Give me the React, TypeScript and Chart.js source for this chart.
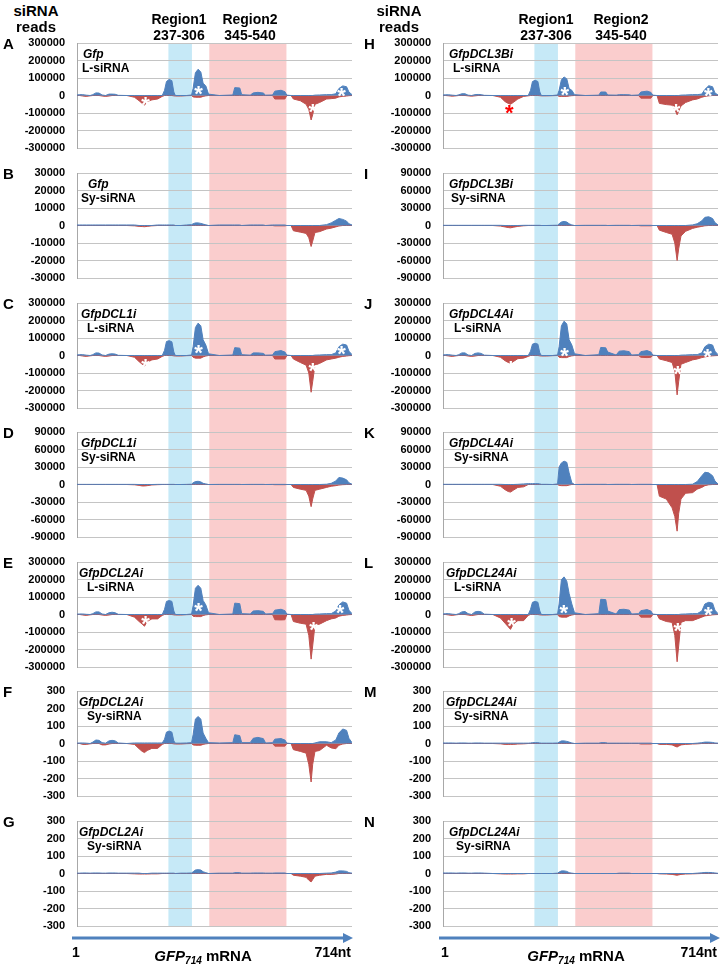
import React, { useEffect, useRef } from 'react';
import { Chart, registerables } from 'chart.js';

Chart.register(...registerables);

// ---------- data ----------
// positions along GFP714 mRNA (nt) at which read counts are sampled
const NT = [1, 8, 16, 25, 35, 42, 50, 58, 66, 75, 84, 92, 100, 108, 130,
  150, 162, 170, 176, 183, 195, 210, 222,
  228, 233, 240, 247, 252, 256,
  270, 285, 298,
  302, 308, 315, 322, 328, 335, 342,
  370, 405, 410, 423, 428, 450, 458, 470, 484, 490, 508, 514, 530, 540, 545, 556,
  562, 580, 595, 602, 608, 612, 618, 630, 648, 660, 672, 680, 690, 700, 706, 714];

const REGION1 = [238, 299];
const REGION2 = [344, 544];
const REGION1_LABEL = ['Region1', '237-306'];
const REGION2_LABEL = ['Region2', '345-540'];

const A_POS = [3000, 5000, 5000, 2000, 0, 5000, 15000, 14000, 3000, 0, 8000, 8000, 7000, 1000, 0,
  0, 0, 0, 0, 0, 0, 0, 0,
  30000, 80000, 92000, 85000, 20000, 0,
  0, 0, 3000,
  40000, 130000, 150000, 135000, 70000, 55000, 8000,
  0, 3000, 45000, 43000, 5000, 2000, 15000, 18000, 14000, 2000, 3000, 25000, 30000, 22000, 2000, 0,
  0, 0, 0, 0, 0, 0, 2000, 3000, 5000, 5000, 10000, 40000, 55000, 50000, 20000, 5000];
const A_NEG = [0, 0, -3000, -5000, -2000, 0, 0, 0, -3000, -5000, -3000, 0, 0, 0, 0,
  -10000, -30000, -45000, -55000, -35000, -25000, -20000, -5000,
  0, 0, 0, 0, -2000, -3000,
  -3000, -1000, 0,
  -8000, -10000, -10000, -10000, -5000, -2000, 0,
  0, 0, 0, 0, 0, 0, 0, 0, 0, 0, 0, -20000, -20000, -20000, 0, 0,
  -20000, -30000, -50000, -80000, -140000, -110000, -50000, -40000, -20000, -18000, -15000, -8000, -5000, -3000, -1000, 0];

const B_POS = [300, 300, 300, 300, 300, 300, 300, 300, 300, 300, 300, 300, 300, 300, 300,
  300, 0, 0, 0, 0, 0, 300, 300,
  300, 300, 300, 300, 300, 0,
  0, 300, 500,
  1000, 1500, 1500, 1200, 800, 400, 0,
  300, 300, 300, 300, 0, 300, 300, 300, 300, 0, 300, 300, 300, 300, 0, 0,
  0, 0, 0, 0, 0, 0, 0, 0, 500, 1500, 3000, 4000, 3500, 2500, 1000, 300];
const B_NEG = [0, 0, 0, 0, 0, 0, 0, 0, 0, 0, 0, 0, 0, 0, 0,
  -200, -500, -600, -700, -500, -200, 0, 0,
  0, 0, 0, 0, 0, 0,
  0, 0, 0,
  0, 0, 0, 0, 0, 0, 0,
  0, 0, 0, 0, 0, 0, 0, 0, 0, 0, 0, -200, -200, -200, 0, 0,
  -3000, -3800, -4500, -7000, -12000, -9000, -4000, -3500, -2000, -1500, -800, -300, 0, 0, 0, 0];

const C_POS = [3000, 5000, 5000, 2000, 0, 5000, 15000, 14000, 3000, 0, 8000, 10000, 8000, 1000, 0,
  0, 0, 0, 0, 0, 0, 0, 0,
  30000, 80000, 85000, 78000, 20000, 0,
  0, 0, 3000,
  50000, 160000, 185000, 170000, 90000, 60000, 10000,
  0, 3000, 45000, 42000, 5000, 2000, 15000, 15000, 12000, 2000, 3000, 22000, 28000, 20000, 2000, 0,
  0, 0, 0, 0, 0, 0, 2000, 3000, 5000, 5000, 15000, 50000, 65000, 60000, 25000, 5000];
const C_NEG = [0, 0, -3000, -5000, -2000, 0, 0, 0, -3000, -5000, -3000, 0, 0, 0, 0,
  -10000, -35000, -50000, -60000, -40000, -25000, -20000, -5000,
  0, 0, 0, 0, -2000, -3000,
  -3000, -1000, 0,
  -10000, -15000, -15000, -15000, -8000, -3000, 0,
  0, 0, 0, 0, 0, 0, 0, 0, 0, 0, 0, -20000, -20000, -20000, 0, 0,
  -20000, -40000, -55000, -100000, -210000, -150000, -55000, -45000, -25000, -20000, -15000, -10000, -5000, -3000, -1000, 0];

const D_POS = [200, 200, 200, 200, 200, 200, 200, 200, 200, 200, 200, 200, 200, 200, 200,
  200, 0, 0, 0, 0, 0, 200, 200,
  200, 200, 200, 200, 200, 0,
  0, 200, 500,
  3000, 5000, 5500, 4500, 2000, 1000, 0,
  200, 200, 200, 200, 0, 200, 200, 200, 200, 0, 200, 200, 200, 200, 0, 0,
  0, 0, 0, 0, 0, 0, 0, 0, 500, 2000, 6000, 12000, 11000, 8000, 3000, 500];
const D_NEG = [0, 0, 0, 0, 0, 0, 0, 0, 0, 0, 0, 0, 0, 0, 0,
  -500, -1500, -2500, -2500, -2000, -800, -300, 0,
  0, 0, 0, 0, 0, 0,
  0, 0, 0,
  0, 0, 0, 0, 0, 0, 0,
  0, 0, 0, 0, 0, 0, 0, 0, 0, 0, 0, -300, -300, -300, 0, 0,
  -5000, -8000, -10000, -20000, -38000, -25000, -10000, -8000, -5000, -3000, -2000, -1000, -300, 0, 0, 0];

const E_POS = [2000, 3000, 3000, 1000, 0, 5000, 15000, 15000, 3000, 0, 10000, 13000, 10000, 1000, 0,
  0, 0, 0, 0, 0, 0, 0, 0,
  30000, 75000, 80000, 75000, 20000, 0,
  0, 0, 3000,
  50000, 150000, 167000, 150000, 80000, 55000, 10000,
  0, 3000, 65000, 62000, 5000, 3000, 20000, 22000, 18000, 3000, 5000, 25000, 30000, 22000, 2000, 0,
  0, 0, 0, 0, 0, 0, 2000, 3000, 5000, 5000, 20000, 55000, 72000, 65000, 25000, 5000];
const E_NEG = [0, 0, -3000, -5000, -2000, 0, 0, 0, -3000, -5000, -3000, 0, 0, 0, 0,
  -15000, -40000, -55000, -67000, -40000, -25000, -25000, -5000,
  0, 0, 0, 0, -2000, -3000,
  -3000, -1000, 0,
  -10000, -12000, -12000, -12000, -6000, -2000, 0,
  0, 0, 0, 0, 0, 0, 0, 0, 0, 0, 0, -30000, -31000, -30000, 0, 0,
  -40000, -50000, -55000, -120000, -255000, -180000, -60000, -55000, -35000, -25000, -20000, -10000, -5000, -3000, -1000, 0];

const F_POS = [2, 3, 3, 2, 0, 8, 20, 18, 5, 2, 15, 18, 15, 3, 0,
  3, 3, 3, 3, 3, 3, 3, 3,
  25, 65, 71, 65, 15, 2,
  2, 3, 5,
  50, 140, 154, 140, 60, 30, 5,
  3, 5, 50, 45, 5, 5, 30, 35, 28, 3, 5, 25, 28, 20, 2, 0,
  0, 0, 0, 0, 0, 0, 3, 10, 10, 5, 20, 60, 83, 75, 30, 5];
const F_NEG = [0, 0, -5, -5, -2, 0, 0, 0, -8, -8, -3, 0, 0, 0, 0,
  -5, -30, -45, -52, -40, -28, -28, -5,
  0, 0, 0, 0, -2, -3,
  -3, -1, 0,
  -8, -10, -10, -10, -5, -2, 0,
  0, 0, 0, 0, 0, 0, 0, 0, 0, 0, 0, -15, -15, -15, 0, 0,
  -35, -45, -55, -120, -220, -120, -45, -40, -10, -25, -30, -10, -3, 0, 0, 0];

const G_POS = [2, 2, 3, 3, 2, 3, 3, 3, 2, 2, 3, 3, 3, 2, 2,
  2, 2, 0, 0, 0, 2, 2, 2,
  2, 2, 2, 2, 2, 0,
  2, 2, 3,
  10, 20, 22, 20, 10, 5, 0,
  2, 2, 5, 5, 2, 2, 3, 3, 3, 2, 2, 3, 3, 3, 0, 0,
  0, 0, 0, 0, 0, 0, 0, 0, 2, 3, 8, 15, 15, 12, 5, 2];
const G_NEG = [0, 0, 0, 0, 0, 0, 0, 0, 0, 0, 0, 0, 0, 0, 0,
  -2, -3, -3, -3, -3, -2, -2, 0,
  0, 0, 0, 0, 0, 0,
  0, 0, 0,
  0, 0, 0, 0, 0, 0, 0,
  0, 0, 0, 0, 0, 0, 0, 0, 0, 0, 0, 0, 0, 0, 0, 0,
  -10, -15, -22, -38, -48, -35, -15, -10, -5, -5, -3, 0, 0, 0, 0, 0];

const H_POS = [3000, 4000, 4000, 2000, 0, 4000, 10000, 10000, 2000, 0, 5000, 6000, 5000, 1000, 0,
  0, 0, 0, 0, 0, 0, 0, 0,
  30000, 80000, 87000, 80000, 20000, 0,
  0, 0, 3000,
  30000, 90000, 106000, 95000, 40000, 30000, 5000,
  0, 2000, 20000, 20000, 3000, 2000, 5000, 5000, 4000, 1000, 3000, 20000, 25000, 18000, 2000, 0,
  0, 0, 0, 0, 0, 0, 2000, 3000, 5000, 5000, 8000, 35000, 56000, 50000, 15000, 3000];
const H_NEG = [0, 0, -2000, -4000, -2000, 0, 0, 0, -2000, -4000, -2000, 0, 0, 0, 0,
  -10000, -35000, -45000, -50000, -40000, -20000, -5000, -2000,
  0, 0, 0, 0, -1000, -2000,
  -2000, -1000, 0,
  -5000, -5000, -5000, -5000, -3000, -1000, 0,
  0, 0, 0, 0, 0, 0, 0, 0, 0, 0, 0, -15000, -15000, -15000, 0, 0,
  -45000, -52000, -55000, -80000, -110000, -90000, -60000, -40000, -25000, -20000, -10000, -5000, -2000, 0, 0, 0];

const I_POS = [300, 300, 300, 300, 300, 300, 300, 300, 300, 300, 300, 300, 300, 300, 300,
  300, 0, 0, 0, 0, 0, 300, 300,
  300, 300, 300, 300, 300, 0,
  0, 300, 500,
  3000, 6000, 7000, 6000, 3000, 1000, 0,
  300, 300, 300, 300, 0, 300, 300, 300, 300, 0, 300, 300, 300, 300, 0, 0,
  0, 0, 0, 0, 0, 0, 0, 0, 1000, 3000, 8000, 14000, 15000, 12000, 5000, 1000];
const I_NEG = [0, 0, 0, 0, 0, 0, 0, 0, 0, 0, 0, 0, 0, 0, 0,
  -1000, -2500, -3500, -4000, -3000, -1500, -500, 0,
  0, 0, 0, 0, 0, 0,
  0, 0, 0,
  0, 0, 0, 0, 0, 0, 0,
  0, 0, 0, 0, 0, 0, 0, 0, 0, 0, 0, -500, -500, -500, 0, 0,
  -8000, -12000, -15000, -30000, -60000, -40000, -18000, -10000, -5000, -3000, -1500, -500, 0, 0, 0, 0];

const J_POS = [3000, 5000, 5000, 2000, 0, 5000, 15000, 15000, 3000, 0, 12000, 15000, 12000, 2000, 0,
  0, 0, 0, 0, 0, 0, 0, 0,
  25000, 65000, 70000, 65000, 15000, 0,
  0, 0, 3000,
  50000, 170000, 196000, 180000, 90000, 60000, 10000,
  0, 5000, 46000, 44000, 20000, 3000, 25000, 27000, 22000, 3000, 5000, 22000, 28000, 20000, 2000, 0,
  0, 0, 0, 0, 0, 0, 2000, 3000, 5000, 5000, 15000, 50000, 65000, 60000, 25000, 5000];
const J_NEG = [0, 0, -3000, -5000, -2000, 0, 0, 0, -3000, -5000, -3000, 0, 0, 0, 0,
  -10000, -30000, -40000, -45000, -35000, -18000, -15000, -5000,
  0, 0, 0, 0, -2000, -3000,
  -3000, -1000, 0,
  -10000, -12000, -12000, -12000, -6000, -2000, 0,
  0, 0, 0, 0, 0, 0, 0, 0, 0, 0, 0, -10000, -12000, -10000, 0, 0,
  -20000, -30000, -40000, -90000, -225000, -150000, -50000, -40000, -25000, -20000, -12000, -8000, -4000, -2000, -1000, 0];

const K_POS = [300, 300, 300, 300, 300, 300, 300, 300, 300, 300, 300, 300, 300, 300, 300,
  300, 0, 0, 0, 0, 300, 1000, 1500,
  1500, 1500, 1500, 1500, 1000, 300,
  300, 0, 1000,
  30000, 37000, 40000, 38000, 20000, 3000, 0,
  300, 300, 300, 300, 0, 300, 300, 300, 300, 0, 300, 300, 300, 300, 0, 0,
  0, 0, 0, 0, 0, 0, 0, 0, 500, 5000, 15000, 21000, 20000, 15000, 6000, 1000];
const K_NEG = [0, 0, 0, 0, 0, 0, 0, 0, 0, 0, 0, 0, 0, 0, 0,
  -3000, -9000, -12000, -13000, -10000, -5000, -4000, 0,
  0, 0, 0, 0, 0, 0,
  0, 0, 0,
  -1500, -2000, -2000, -2000, -1000, 0, 0,
  0, 0, 0, 0, 0, 0, 0, 0, 0, 0, 0, 0, 0, 0, 0, 0,
  -20000, -25000, -40000, -55000, -80000, -50000, -25000, -15000, -14000, -8000, -5000, -2000, -500, 0, 0, 0];

const L_POS = [3000, 5000, 5000, 2000, 0, 5000, 15000, 17000, 5000, 0, 15000, 18000, 15000, 2000, 0,
  0, 0, 0, 0, 0, 0, 0, 0,
  30000, 70000, 75000, 70000, 20000, 0,
  0, 0, 3000,
  60000, 200000, 215000, 190000, 120000, 60000, 10000,
  0, 5000, 87000, 85000, 20000, 3000, 28000, 30000, 25000, 3000, 5000, 22000, 28000, 20000, 2000, 0,
  0, 0, 0, 0, 0, 0, 2000, 3000, 5000, 5000, 20000, 60000, 70000, 65000, 25000, 5000];
const L_NEG = [0, 0, -3000, -5000, -2000, 0, 0, 0, -3000, -6000, -3000, 0, 0, 0, 0,
  -20000, -50000, -70000, -85000, -55000, -35000, -35000, -5000,
  0, 0, 0, 0, -2000, -3000,
  -3000, -1000, 0,
  -12000, -15000, -15000, -15000, -8000, -3000, 0,
  0, 0, 0, 0, 0, 0, 0, 0, 0, 0, 0, -15000, -15000, -15000, 0, 0,
  -25000, -40000, -45000, -120000, -270000, -180000, -45000, -35000, -35000, -25000, -15000, -8000, -5000, -2000, -1000, 0];

const M_POS = [3, 3, 3, 3, 2, 3, 3, 3, 2, 2, 3, 3, 3, 2, 2,
  2, 2, 2, 2, 2, 2, 2, 2,
  3, 5, 5, 5, 3, 2,
  2, 2, 3,
  8, 15, 15, 12, 8, 3, 0,
  2, 2, 5, 5, 2, 2, 2, 2, 2, 2, 2, 2, 2, 2, 0, 0,
  0, 0, 0, 0, 0, 0, 0, 0, 0, 2, 5, 8, 8, 6, 3, 2];
const M_NEG = [0, 0, 0, 0, 0, 0, 0, 0, 0, 0, 0, 0, 0, 0, 0,
  -2, -5, -5, -5, -5, -3, -2, 0,
  0, 0, 0, 0, 0, 0,
  0, 0, 0,
  0, 0, 0, 0, 0, 0, 0,
  0, 0, 0, 0, 0, 0, 0, 0, 0, 0, 0, -3, -3, -3, 0, 0,
  -5, -5, -8, -15, -20, -15, -8, -5, -3, -2, 0, 0, 0, 0, 0, 0];

const N_POS = [3, 3, 3, 3, 2, 3, 3, 3, 2, 2, 3, 3, 3, 2, 0,
  0, 0, 0, 0, 0, 0, 0, 0,
  0, 0, 0, 0, 0, 0,
  0, 0, 2,
  8, 15, 15, 12, 5, 2, 0,
  0, 0, 0, 0, 0, 0, 2, 2, 2, 0, 0, 0, 0, 0, 0, 0,
  0, 0, 0, 0, 0, 0, 0, 0, 0, 2, 4, 6, 6, 5, 3, 1];
const N_NEG = [0, 0, 0, 0, 0, 0, 0, 0, 0, 0, 0, 0, 0, 0, 0,
  -2, -3, -3, -3, -3, -2, -2, 0,
  0, 0, 0, 0, 0, 0,
  0, 0, 0,
  0, 0, 0, 0, 0, 0, 0,
  0, 0, 0, 0, 0, 0, 0, 0, 0, 0, 0, 0, 0, 0, 0, 0,
  -2, -3, -5, -8, -10, -8, -5, -3, -2, -1, 0, 0, 0, 0, 0, 0];

// asterisk marks [nt, reads]
const A_STARS = [[179, -23000], [316, 38000], [612, -63000], [687, 25000]];
const C_STARS = [[179, -36000], [316, 46000], [612, -56000], [687, 40000]];
const E_STARS = [[179, -25000], [316, 52000], [614, -58000], [683, 38000]];
const H_STARS = [[317, 35000], [605, -63000], [689, 25000]];
const H_RED_STARS = [[173, -67000]];
const J_STARS = [[177, -48000], [316, 29000], [610, -77000], [687, 19000]];
const L_STARS = [[179, -35000], [314, 38000], [610, -63000], [689, 27000]];

// y-axis limits per panel (ticks at thirds)
const AXIS_MAX = { A: 300000, B: 30000, C: 300000, D: 90000, E: 300000, F: 300, G: 300,
  H: 300000, I: 90000, J: 300000, K: 90000, L: 300000, M: 300, N: 300 };

type Panel = {
  letter: string; gene: string; kind: string; col: number; row: number;
  pos: number[]; neg: number[]; stars: number[][]; redStars: number[][];
  geneX: number; kindX: number;
};

const PANELS: Panel[] = [
  { letter: 'A', gene: 'Gfp', kind: 'L-siRNA', col: 0, row: 0, pos: A_POS, neg: A_NEG, stars: A_STARS, redStars: [], geneX: 83, kindX: 82 },
  { letter: 'B', gene: 'Gfp', kind: 'Sy-siRNA', col: 0, row: 1, pos: B_POS, neg: B_NEG, stars: [], redStars: [], geneX: 88, kindX: 81 },
  { letter: 'C', gene: 'GfpDCL1i', kind: 'L-siRNA', col: 0, row: 2, pos: C_POS, neg: C_NEG, stars: C_STARS, redStars: [], geneX: 81, kindX: 87 },
  { letter: 'D', gene: 'GfpDCL1i', kind: 'Sy-siRNA', col: 0, row: 3, pos: D_POS, neg: D_NEG, stars: [], redStars: [], geneX: 81, kindX: 81 },
  { letter: 'E', gene: 'GfpDCL2Ai', kind: 'L-siRNA', col: 0, row: 4, pos: E_POS, neg: E_NEG, stars: E_STARS, redStars: [], geneX: 79, kindX: 87 },
  { letter: 'F', gene: 'GfpDCL2Ai', kind: 'Sy-siRNA', col: 0, row: 5, pos: F_POS, neg: F_NEG, stars: [], redStars: [], geneX: 79, kindX: 87 },
  { letter: 'G', gene: 'GfpDCL2Ai', kind: 'Sy-siRNA', col: 0, row: 6, pos: G_POS, neg: G_NEG, stars: [], redStars: [], geneX: 79, kindX: 87 },
  { letter: 'H', gene: 'GfpDCL3Bi', kind: 'L-siRNA', col: 1, row: 0, pos: H_POS, neg: H_NEG, stars: H_STARS, redStars: H_RED_STARS, geneX: 449, kindX: 453 },
  { letter: 'I', gene: 'GfpDCL3Bi', kind: 'Sy-siRNA', col: 1, row: 1, pos: I_POS, neg: I_NEG, stars: [], redStars: [], geneX: 449, kindX: 451 },
  { letter: 'J', gene: 'GfpDCL4Ai', kind: 'L-siRNA', col: 1, row: 2, pos: J_POS, neg: J_NEG, stars: J_STARS, redStars: [], geneX: 449, kindX: 454 },
  { letter: 'K', gene: 'GfpDCL4Ai', kind: 'Sy-siRNA', col: 1, row: 3, pos: K_POS, neg: K_NEG, stars: [], redStars: [], geneX: 449, kindX: 454 },
  { letter: 'L', gene: 'GfpDCL24Ai', kind: 'L-siRNA', col: 1, row: 4, pos: L_POS, neg: L_NEG, stars: L_STARS, redStars: [], geneX: 446, kindX: 454 },
  { letter: 'M', gene: 'GfpDCL24Ai', kind: 'Sy-siRNA', col: 1, row: 5, pos: M_POS, neg: M_NEG, stars: [], redStars: [], geneX: 446, kindX: 454 },
  { letter: 'N', gene: 'GfpDCL24Ai', kind: 'Sy-siRNA', col: 1, row: 6, pos: N_POS, neg: N_NEG, stars: [], redStars: [], geneX: 449, kindX: 456 },
];

// ---------- style / layout ----------
const FONT = '"Liberation Sans", Arial, Helvetica, sans-serif';
const BLUE = '#4F81BD';
const RED = '#C0504D';
const BAND_BLUE = '#C6E9F7';
const BAND_PINK = '#FACDCD';
const GRID = '#C4C4C4';
const AXIS = '#A8A8A8';
const ROW_TOPS = [43, 173, 303, 432, 562, 691, 821];
const PLOT_H = 105;
const PAD_TOP = 12;
const COL_X = [0, 366];
const COL_W = [361, 356];
const AXIS_W = 77;

function PanelChart({ p }: { p: Panel }) {
  const ref = useRef<HTMLCanvasElement>(null);
  const row = p.row;
  const h = row < ROW_TOPS.length - 1 ? ROW_TOPS[row + 1] - ROW_TOPS[row] : 130;
  const w = COL_W[p.col];
  useEffect(() => {
    const first = row === 0;
    const last = row === ROW_TOPS.length - 1;
    const max = AXIS_MAX[p.letter as keyof typeof AXIS_MAX];
    const bands = {
      id: 'bands',
      beforeDraw(chart: any) {
        const { ctx, chartArea, scales } = chart;
        const x = scales.x;
        const top = first ? chartArea.top : 0;
        const bottom = last ? chartArea.bottom : chart.height;
        const list: [number[], string][] = [[REGION1, BAND_BLUE], [REGION2, BAND_PINK]];
        ctx.save();
        list.forEach(([r, c]) => {
          const x0 = x.getPixelForValue(r[0]);
          const x1 = x.getPixelForValue(r[1]);
          ctx.fillStyle = c;
          ctx.fillRect(x0, top, x1 - x0, bottom - top);
        });
        ctx.restore();
      },
    };
    const stars = {
      id: 'stars',
      afterDatasetsDraw(chart: any) {
        const { ctx, scales } = chart;
        const size = 22;
        ctx.save();
        ctx.font = `bold ${size}px ${FONT}`;
        ctx.textAlign = 'center';
        ctx.textBaseline = 'alphabetic';
        const draw = (s: number[], color: string) => {
          const px = scales.x.getPixelForValue(s[0]);
          const py = scales.y.getPixelForValue(s[1]);
          ctx.fillStyle = color;
          ctx.fillText('*', px, py + size * 0.56);
        };
        p.stars.forEach((s) => draw(s, '#FFFFFF'));
        p.redStars.forEach((s) => draw(s, '#FF0000'));
        ctx.restore();
      },
    };
    const chart = new Chart(ref.current as HTMLCanvasElement, {
      type: 'line',
      data: {
        datasets: [
          {
            data: NT.map((x, i) => ({ x, y: p.neg[i] })),
            backgroundColor: RED, borderColor: RED, borderWidth: 1, borderJoinStyle: 'round',
            fill: 'origin', pointRadius: 0, tension: 0, order: 2,
          },
          {
            data: NT.map((x, i) => ({ x, y: p.pos[i] })),
            backgroundColor: BLUE, borderColor: BLUE, borderWidth: 1, borderJoinStyle: 'round',
            fill: 'origin', pointRadius: 0, tension: 0, order: 1,
          },
        ],
      },
      options: {
        animation: false,
        responsive: false,
        events: [],
        layout: { autoPadding: false, padding: { top: PAD_TOP, bottom: h - PAD_TOP - PLOT_H, left: 0, right: w - AXIS_W - 275 } },
        scales: {
          x: { type: 'linear', min: 1, max: 714, display: false },
          y: {
            min: -max, max: max,
            afterFit: (s: any) => { s.width = AXIS_W; },
            ticks: {
              stepSize: max / 3, padding: 0, color: '#000',
              font: { family: FONT, size: 11, weight: 'bold' },
              callback: (v: any) => String(v),
            },
            grid: { color: GRID, drawTicks: true, tickLength: 12, tickColor: 'rgba(0,0,0,0)', lineWidth: 1 },
            border: { display: true, color: AXIS, width: 1 },
          },
        },
        plugins: { legend: { display: false }, tooltip: { enabled: false } },
      } as any,
      plugins: [bands, stars],
    } as any);
    return () => chart.destroy();
  }, []);
  return (
    <canvas
      ref={ref}
      width={w}
      height={h}
      style={{ position: 'absolute', left: COL_X[p.col], top: ROW_TOPS[row] - PAD_TOP, width: w, height: h }}
    />
  );
}

function Txt(props: { x: number; y: number; size: number; align?: string; italic?: boolean; color?: string; children: any }) {
  const { x, y, size, align = 'left', italic = false, color = '#000', children } = props;
  const tx = align === 'center' ? '-50%' : align === 'right' ? '-100%' : '0';
  return (
    <div
      style={{
        position: 'absolute', left: x, top: y, transform: `translate(${tx}, -50%)`,
        fontFamily: FONT, fontSize: size, fontWeight: 700, fontStyle: italic ? 'italic' : 'normal',
        lineHeight: 1, whiteSpace: 'nowrap', color,
      }}
    >
      {children}
    </div>
  );
}

function Arrow({ x0, x1, y }: { x0: number; x1: number; y: number }) {
  return (
    <svg style={{ position: 'absolute', left: 0, top: 0 }} width={722} height={968}>
      <line x1={x0} y1={y} x2={x1 - 8} y2={y} stroke={BLUE} strokeWidth={3} />
      <polygon points={`${x1},${y} ${x1 - 10},${y - 5} ${x1 - 10},${y + 5}`} fill={BLUE} />
    </svg>
  );
}

export default function App() {
  const headers = [
    { readsX: 36, r1X: 179, r2X: 250, arrow: [72, 353], oneX: 72, endX: 351, mrnaX: 203 },
    { readsX: 399, r1X: 546, r2X: 621, arrow: [439, 720], oneX: 441, endX: 717, mrnaX: 576 },
  ];
  return (
    <div style={{ position: 'absolute', left: 0, top: 0, width: 722, height: 968, background: '#fff', overflow: 'hidden' }}>
      {PANELS.map((p) => <PanelChart key={p.letter} p={p} />)}
      {headers.map((hd, i) => (
        <React.Fragment key={'h' + i}>
          <Txt x={hd.readsX} y={10} size={15} align="center">siRNA</Txt>
          <Txt x={hd.readsX} y={26} size={15} align="center">reads</Txt>
          <Txt x={hd.r1X} y={19} size={14} align="center">{REGION1_LABEL[0]}</Txt>
          <Txt x={hd.r1X} y={35} size={14} align="center">{REGION1_LABEL[1]}</Txt>
          <Txt x={hd.r2X} y={19} size={14} align="center">{REGION2_LABEL[0]}</Txt>
          <Txt x={hd.r2X} y={35} size={14} align="center">{REGION2_LABEL[1]}</Txt>
          <Arrow x0={hd.arrow[0]} x1={hd.arrow[1]} y={938} />
          <Txt x={hd.oneX} y={952} size={14}>1</Txt>
          <Txt x={hd.endX} y={952} size={14} align="right">714nt</Txt>
          <Txt x={hd.mrnaX} y={957} size={15} align="center">
            <i>GFP</i><sub style={{ fontSize: 10, fontStyle: 'italic', verticalAlign: '-3px' }}>714</sub> mRNA
          </Txt>
        </React.Fragment>
      ))}
      {PANELS.map((p) => (
        <React.Fragment key={'t' + p.letter}>
          <Txt x={p.col === 0 ? 3 : 364} y={ROW_TOPS[p.row]} size={15}>{p.letter}</Txt>
          <Txt x={p.geneX} y={ROW_TOPS[p.row] + 11} size={12} italic>{p.gene}</Txt>
          <Txt x={p.kindX} y={ROW_TOPS[p.row] + 25} size={12}>{p.kind}</Txt>
        </React.Fragment>
      ))}
    </div>
  );
}
